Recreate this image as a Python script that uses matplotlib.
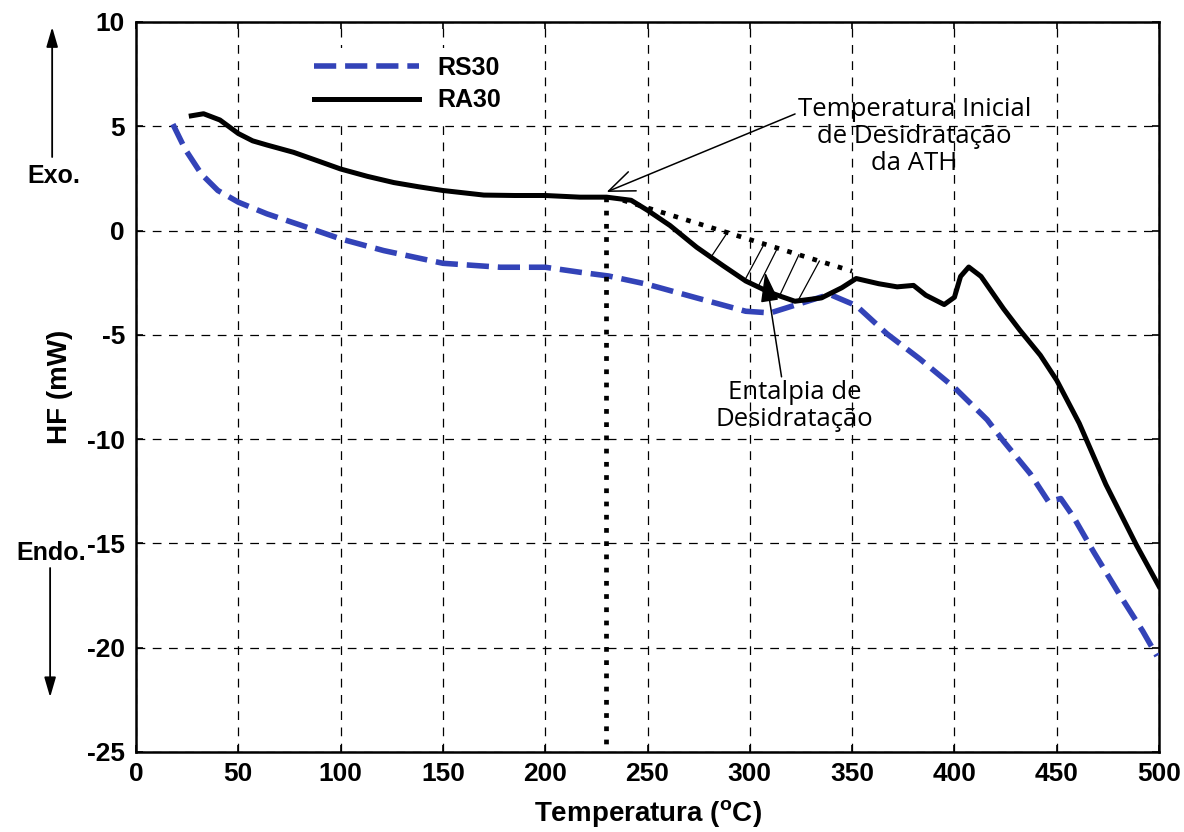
import numpy as np
import matplotlib
matplotlib.use("Agg")
import matplotlib.pyplot as plt

# DSC curves
ra30_T = [27, 33, 41, 50, 57, 64, 77, 90, 100, 113, 126, 138, 150, 170, 185, 200,
          217, 230, 242, 250, 261, 274, 287, 298, 310, 322, 335, 345, 352, 363,
          372, 380, 386, 395, 400, 403, 407, 413, 424, 432, 442, 450, 461, 474,
          489, 500]
ra30_hf = [5.5, 5.6, 5.3, 4.65, 4.3, 4.1, 3.75, 3.3, 2.95, 2.6, 2.3, 2.1, 1.92,
           1.7, 1.68, 1.68, 1.6, 1.6, 1.45, 0.97, 0.24, -0.8, -1.69, -2.42, -2.98,
           -3.39, -3.23, -2.74, -2.3, -2.55, -2.7, -2.63, -3.1, -3.55, -3.2, -2.2,
           -1.75, -2.2, -3.75, -4.78, -5.98, -7.18, -9.24, -12.17, -15.09, -17.06]

rs30_T = [18, 24, 32, 40, 50, 64, 81, 100, 121, 150, 178, 200, 217, 231, 250, 274,
          298, 310, 323, 339, 352, 367, 383, 400, 416, 424, 437, 446, 452, 458,
          468, 481, 492, 499]
rs30_hf = [5.1, 3.9, 2.7, 1.92, 1.36, 0.8, 0.24, -0.4, -0.96, -1.57, -1.76, -1.76,
           -2.0, -2.18, -2.58, -3.23, -3.87, -3.95, -3.55, -3.06, -3.6, -4.95,
           -6.15, -7.53, -9.07, -10.1, -11.65, -13.0, -12.85, -13.7, -15.4, -17.5,
           -19.2, -20.4]

# onset temperature and tangent baseline of the dehydration peak
onset_T = 229.5
baseline_T = [238, 350]
baseline_hf = [1.45, -1.95]
hatch_start = [281, 297.5, 304, 314.5, 323.5]
hatch_end = [289, 307, 313.5, 324, 334]

BLUE = "#3343b8"


def main():
    plt.rcParams["font.family"] = "Liberation Sans"
    plt.rcParams["font.weight"] = "bold"
    plt.rcParams["axes.labelweight"] = "bold"
    plt.rcParams["axes.unicode_minus"] = False
    plt.rcParams["mathtext.fontset"] = "custom"
    plt.rcParams["mathtext.rm"] = "Liberation Sans:bold"
    plt.rcParams["mathtext.bf"] = "Liberation Sans:bold"

    fig = plt.figure(figsize=(11.84, 8.32), dpi=100)
    ax = fig.add_axes([0.1149, 0.0962, 0.864, 0.8774])

    ax.grid(True, color="black", linestyle=(0, (7, 6)), linewidth=0.9)
    ax.set_axisbelow(True)

    ax.plot(rs30_T, rs30_hf, color=BLUE, lw=4.0, linestyle=(0, (4.0, 1.6)),
            label="RS30", zorder=3)
    ax.plot(ra30_T, ra30_hf, color="black", lw=3.6, label="RA30", zorder=4,
            solid_joinstyle="round")

    # onset marker and baseline
    onset_hf = np.interp(onset_T, ra30_T, ra30_hf)
    dots = (0, (1, 1.8))
    ax.plot([onset_T, onset_T], [onset_hf, -25], color="black", lw=3.4,
            linestyle=dots, zorder=5, clip_on=False)
    ax.plot(baseline_T, baseline_hf, color="black", lw=3.4, linestyle=dots, zorder=5)

    for t0, t1 in zip(hatch_start, hatch_end):
        y0 = np.interp(t0, ra30_T, ra30_hf)
        y1 = np.interp(t1, baseline_T, baseline_hf)
        ax.plot([t0, t1], [y0, y1], color="black", lw=0.9, zorder=5)

    ax.annotate("Temperatura Inicial\nde Desidratação\nda ATH",
                xy=(230, 1.85), xytext=(380.5, 4.5),
                ha="center", va="center", fontsize=18.5, fontweight="normal",
                family="Open Sans", linespacing=1.12,
                arrowprops=dict(arrowstyle="->,head_length=1.0,head_width=0.4",
                                color="black", lw=1.1, shrinkA=0, shrinkB=0,
                                relpos=(0.0, 0.8)))
    ax.annotate("Entalpia de\nDesidratação",
                xy=(307.5, -2.0), xytext=(322, -8.4),
                ha="center", va="center", fontsize=18.5, fontweight="normal",
                family="Open Sans", linespacing=1.12,
                arrowprops=dict(arrowstyle="-|>,head_length=1.0,head_width=0.3",
                                color="black", lw=1.1, shrinkA=0, shrinkB=0,
                                relpos=(0.42, 0.97)))

    ax.set_xlim(0, 500)
    ax.set_ylim(-25, 10)
    ax.set_xticks(np.arange(0, 501, 50))
    ax.set_yticks(np.arange(-25, 11, 5))
    ax.tick_params(direction="in", length=5, top=True, right=True,
                   labelsize=19, width=1.2)
    ax.tick_params(axis="y", pad=8)
    ax.tick_params(axis="x", pad=7)
    for s in ax.spines.values():
        s.set_linewidth(1.8)

    ax.set_xlabel("Temperatura ($^{\\mathbf{o}}$C)", fontsize=20, labelpad=9)
    ax.set_ylabel("HF (mW)", fontsize=20, labelpad=10)

    leg = ax.legend(loc="upper left", bbox_to_anchor=(0.167, 0.964),
                    borderaxespad=0, borderpad=0.3, fontsize=18,
                    handlelength=4.2, handletextpad=0.7, labelspacing=0.35,
                    frameon=True, fancybox=False)
    leg.get_frame().set_edgecolor("none")
    leg.get_frame().set_facecolor("white")
    leg.get_frame().set_alpha(1)

    # Exo / Endo indicators outside the axes
    ax.text(-0.0802, 0.789, "Exo.", transform=ax.transAxes, ha="center",
            va="center", fontsize=18)
    ax.annotate("", xy=(-0.082, 0.993), xytext=(-0.082, 0.815),
                xycoords="axes fraction", textcoords="axes fraction",
                arrowprops=dict(arrowstyle="-|>,head_length=1.2,head_width=0.35",
                                color="black", lw=1.3, shrinkA=0, shrinkB=0))
    ax.text(-0.0831, 0.2726, "Endo.", transform=ax.transAxes, ha="center",
            va="center", fontsize=18)
    ax.annotate("", xy=(-0.084, 0.075), xytext=(-0.084, 0.252),
                xycoords="axes fraction", textcoords="axes fraction",
                arrowprops=dict(arrowstyle="-|>,head_length=1.2,head_width=0.35",
                                color="black", lw=1.3, shrinkA=0, shrinkB=0))

    fig.savefig("out.png", dpi=100)


if __name__ == "__main__":
    main()
